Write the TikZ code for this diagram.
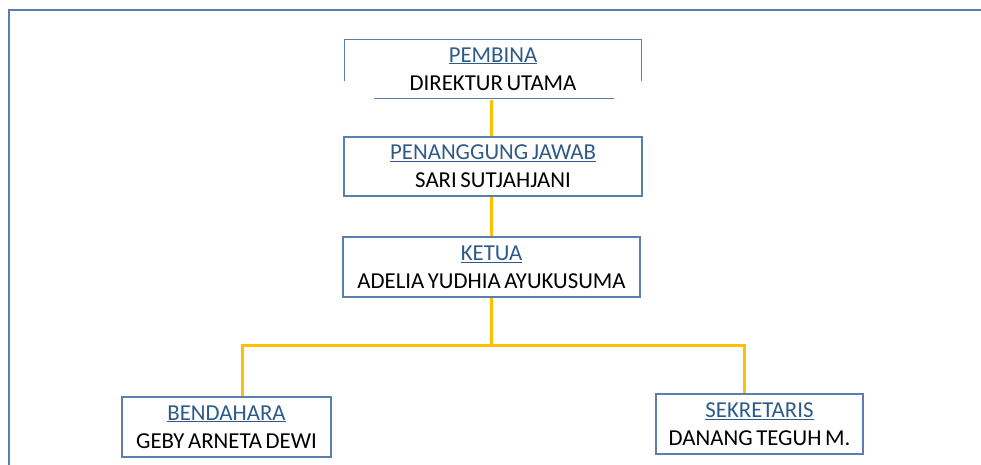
\documentclass[tikz,border=0pt]{standalone}
\usepackage{fontspec}
\setmainfont{Carlito}[WordSpace=0.7]
\usepackage{tikz}
\definecolor{boxblue}{HTML}{5A7FAE}
\definecolor{titleblue}{HTML}{2E5A8A}
\definecolor{linkyellow}{HTML}{FFC000}

\begin{document}
\begin{tikzpicture}[x=1pt,y=-1pt,
  post/.style={draw=boxblue,line width=1.4pt,align=center,inner sep=0pt,
    font=\fontsize{22.8}{28}\selectfont},
  link/.style={draw=linkyellow,line width=3pt}]
\useasboundingbox (0,0) rectangle (981,465);
\draw[boxblue,line width=2pt] (9,465) -- (9,10) -- (981,10);
% top of the chart
\node[post,draw=none,minimum width=296pt,minimum height=58pt] (pembina) at (493,69)
  {\textcolor{titleblue}{\underline{PEMBINA}}\\DIREKTUR UTAMA};
\draw[boxblue,line width=1.4pt] ([yshift=-42pt]pembina.north west) -- (pembina.north west)
  -- (pembina.north east) -- ([yshift=-42pt]pembina.north east);
\draw[boxblue,line width=1.4pt] ([xshift=30pt]pembina.south west) -- ([xshift=-28pt]pembina.south east);
\node[post,minimum width=298pt,minimum height=59pt] (pj) at (493,166.5)
  {\textcolor{titleblue}{\underline{PENANGGUNG JAWAB}}\\SARI SUTJAHJANI};
\node[post,minimum width=297pt,minimum height=60pt] (ketua) at (491.5,267)
  {\textcolor{titleblue}{\underline{KETUA}}\\ADELIA YUDHIA AYUKUSUMA};
% second row
\node[post,minimum width=209pt,minimum height=60pt] (bendahara) at (226.5,427)
  {\textcolor{titleblue}{\underline{BENDAHARA}}\\GEBY ARNETA DEWI};
\node[post,minimum width=207pt,minimum height=60pt] (sekretaris) at (759.5,424)
  {\textcolor{titleblue}{\underline{SEKRETARIS}}\\DANANG TEGUH M.};
\coordinate (split) at (491,345);
\draw[link] ([xshift=-2pt,yshift=-1pt]pembina.south) -- ([xshift=-2pt]pj.north);
\draw[link] ([xshift=-2pt]pj.south) -- ([xshift=-0.5pt]ketua.north);
\draw[link] ([xshift=-0.5pt]ketua.south) -- (split);
\draw[link] ([xshift=16pt]bendahara.north) |- (split) -| ([xshift=-15pt]sekretaris.north);
\end{tikzpicture}
\end{document}
